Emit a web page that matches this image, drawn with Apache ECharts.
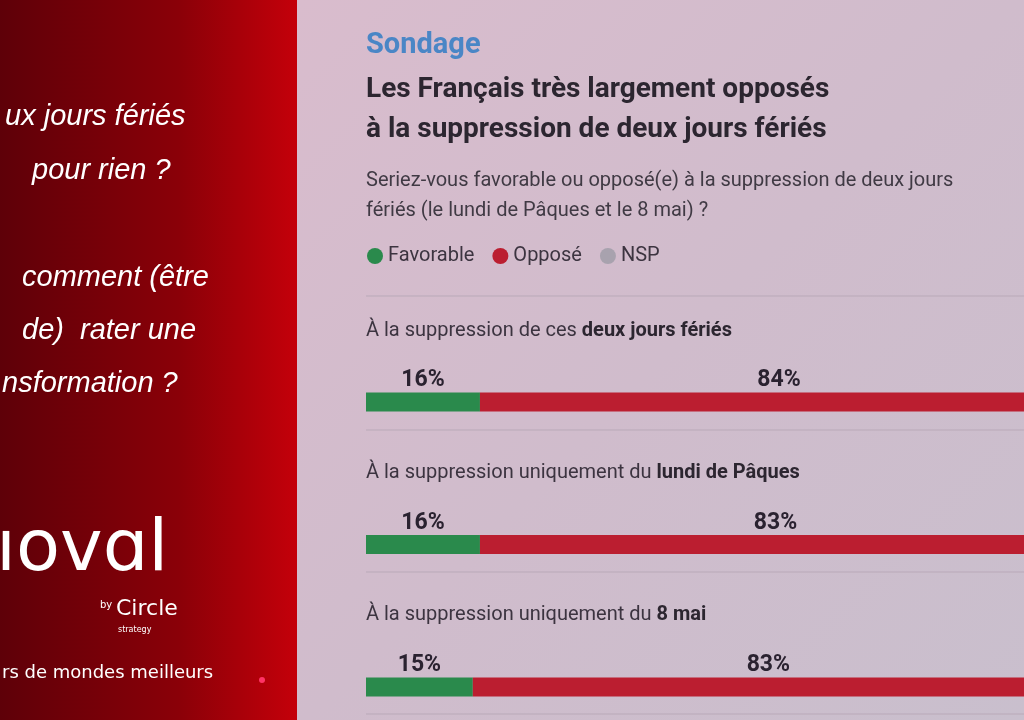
<!DOCTYPE html>
<html><head><meta charset="utf-8">
<script src="https://cdn.jsdelivr.net/npm/echarts@6/dist/echarts.min.js"></script>
<style>html,body{margin:0;padding:0}#main{width:1024px;height:720px}</style>
</head><body><div id="main"></div>
<script>
// données du sondage
var questions = ["deux jours fériés", "lundi de Pâques", "8 mai"];
var favorable = [16, 16, 15];
var oppose = [84, 83, 83];
var nsp = [0, 1, 2];
var seriesNames = ["Favorable", "Opposé", "NSP"];
var colors = ["#2a8a4c", "#bb1e30", "#a8a2ae"];

var bold = "'Roboto','Liberation Sans',sans-serif";
var sans = "'Roboto','Liberation Sans',sans-serif";

var myChart = echarts.init(document.getElementById("main"));
var rowTitles = [
    ["À la suppression de ces ", "deux jours fériés"],
    ["À la suppression uniquement du ", "lundi de Pâques"],
    ["À la suppression uniquement du ", "8 mai"]
];
var leftLines = [
    ["ux jours fériés", 5, 122], ["pour rien ?", 32, 176],
    ["comment (être", 22, 283], ["de)  rater une", 22, 336], ["nsformation ?", 2, 389]
];
var graphics = [
    {type: "rect", shape: {x: 297, y: 0, width: 727, height: 720}, z: -10,
     style: {fill: new echarts.graphic.LinearGradient(0, 0, 1, 1, [
        {offset: 0, color: "#d9bccd"}, {offset: 0.5, color: "#d0bccc"}, {offset: 1, color: "#c9bfcd"}])}},
    {type: "rect", shape: {x: 0, y: 0, width: 297, height: 720}, z: -10,
     style: {fill: new echarts.graphic.LinearGradient(0, 0, 1, 0, [
        {offset: 0, color: "#5e0008"}, {offset: 0.6, color: "#8a0008"}, {offset: 1, color: "#c4000a"}])}},
    {type: "text", left: 366, top: 31, style: {text: "Sondage", fill: "#4a86c6", font: "bold 29px " + bold}},
    {type: "text", left: 366, top: 70, style: {text: "Les Français très largement opposés\nà la suppression de deux jours fériés",
        fill: "#2c2630", font: "bold 28px " + bold, lineHeight: 40}},
    {type: "text", left: 366, top: 166, style: {text: "Seriez-vous favorable ou opposé(e) à la suppression de deux jours\nfériés (le lundi de Pâques et le 8 mai) ?",
        fill: "#403a44", font: "20px " + sans, lineHeight: 30}},
    {type: "text", left: 2, top: 664, style: {text: "rs de mondes meilleurs", fill: "#fff", font: "18px 'DejaVu Sans',sans-serif"}},
    {type: "circle", shape: {cx: 262, cy: 680, r: 3}, style: {fill: "#ff3366"}},
    {type: "text", left: -4, top: 515, style: {text: "ıovɑl", fill: "#fff", font: "72px 'DejaVu Sans',sans-serif"}},
    {type: "text", left: 100, top: 600, style: {text: "by", fill: "#fff", font: "10px 'DejaVu Sans',sans-serif"}},
    {type: "text", left: 116, top: 598, style: {text: "Circle", fill: "#fff", font: "22px 'DejaVu Sans',sans-serif"}},
    {type: "text", left: 118, top: 626, style: {text: "strategy", fill: "#fff", font: "8px 'DejaVu Sans',sans-serif"}}
];
[296, 430, 572, 714].forEach(function (y) {
    graphics.push({type: "line", shape: {x1: 366, y1: y, x2: 1024, y2: y}, style: {stroke: "#b9a9b8", lineWidth: 1}});
});
rowTitles.forEach(function (t, i) {
    graphics.push({type: "text", left: 366, top: 321 + i * 142,
        style: {text: "{a|" + t[0] + "}{b|" + t[1] + "}",
        rich: {a: {fill: "#3c3440", font: "20px " + sans}, b: {fill: "#2c2630", font: "bold 20px " + bold}}}});
});
leftLines.forEach(function (l) {
    graphics.push({type: "text", left: l[1], top: l[2] - 20,
        style: {text: l[0], fill: "#fff", font: "italic 29px 'Liberation Sans',sans-serif"}});
});

// étiquettes au milieu de chaque segment
var labelPts = [];
questions.forEach(function (q, i) {
    labelPts.push({value: [favorable[i] / 2, q], pct: favorable[i]});
    labelPts.push({value: [favorable[i] + oppose[i] / 2, q], pct: oppose[i]});
});

myChart.setOption({
    animation: false,
    color: colors,
    graphic: graphics,
    legend: {
        left: 362, top: 241, icon: "circle", itemWidth: 16, itemHeight: 16, itemGap: 18,
        data: seriesNames,
        textStyle: {color: "#3c3440", fontSize: 20, fontFamily: sans}
    },
    // la barre complète (100 %) dépasse le bord droit de l'image
    grid: {left: 366, top: 402, right: 0, bottom: 33},
    xAxis: {type: "value", min: 0, max: 92.4, show: false},
    yAxis: {type: "category", data: questions, inverse: true, boundaryGap: false, show: false},
    series: [
        {name: seriesNames[0], type: "bar", stack: "t", barWidth: 19, data: favorable},
        {name: seriesNames[1], type: "bar", stack: "t", barWidth: 19, data: oppose},
        {name: seriesNames[2], type: "bar", stack: "t", barWidth: 19, data: nsp},
        {type: "scatter", symbolSize: 0, data: labelPts, silent: true, itemStyle: {opacity: 1},
         label: {show: true, position: "top", distance: 10, color: "#2a2230", opacity: 1,
            fontFamily: bold, fontSize: 23, fontWeight: "bold",
            formatter: function (p) { return p.data.pct + "%"; }}}
    ]
});
window.addEventListener("resize", function () {
    myChart.resize();
});
</script>
</body></html>
